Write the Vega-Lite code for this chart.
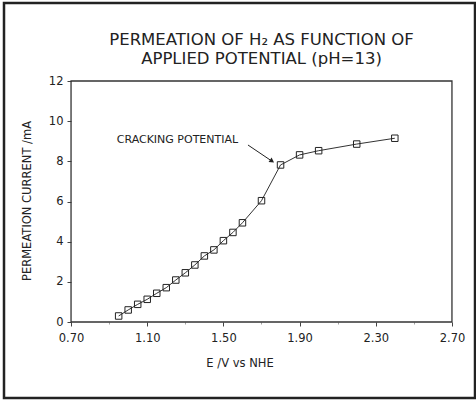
{
  "$schema": "https://vega.github.io/schema/vega-lite/v6.json",
  "width": 471,
  "height": 395,
  "autosize": {"type": "none"},
  "padding": {"left": 4, "top": 3, "right": 1, "bottom": 4},
  "background": "white",
  "config": {
    "view": {"stroke": "#222", "strokeWidth": 2.5},
    "font": "DejaVu Sans",
    "axis": {"grid": false, "domain": false, "labelOverlap": false, "labelFlush": false, "tickColor": "#444", "labelColor": "#222", "titleColor": "#222", "labelFont": "DejaVu Sans", "titleFont": "DejaVu Sans", "titleFontWeight": "normal"}
  },
  "layer": [
    {
      "data": {"values": [
        {"E": 0.95, "I": 0.30}, {"E": 1.00, "I": 0.60}, {"E": 1.05, "I": 0.88}, {"E": 1.10, "I": 1.13},
        {"E": 1.15, "I": 1.43}, {"E": 1.20, "I": 1.71}, {"E": 1.25, "I": 2.09}, {"E": 1.30, "I": 2.45},
        {"E": 1.35, "I": 2.84}, {"E": 1.40, "I": 3.29}, {"E": 1.45, "I": 3.59}, {"E": 1.50, "I": 4.05},
        {"E": 1.55, "I": 4.46}, {"E": 1.60, "I": 4.94}, {"E": 1.70, "I": 6.04}, {"E": 1.80, "I": 7.82},
        {"E": 1.90, "I": 8.32}, {"E": 2.00, "I": 8.53}, {"E": 2.20, "I": 8.86}, {"E": 2.40, "I": 9.15}
      ]},
      "layer": [
        {
          "mark": {"type": "line", "stroke": "#333", "strokeWidth": 1},
          "encoding": {
            "x": {"field": "E", "type": "quantitative", "scale": {"domain": [0.348, 2.821], "nice": false, "zero": false},
              "axis": {
                "orient": "bottom", "offset": -76,
                "values": [0.7,0.8,0.9,1.0,1.1,1.2,1.3,1.4,1.5,1.6,1.7,1.8,1.9,2.0,2.1,2.2,2.3,2.4,2.5,2.6,2.7],
                "labelExpr": "round(datum.value*10) % 4 == 3 ? format(datum.value, '.2f') : ''",
                "tickSize": {"condition": {"test": "round(datum.value*10) % 4 == 3", "value": 4}, "value": 2},
                "tickOpacity": {"condition": {"test": "round(datum.value*10) % 4 == 3", "value": 1}, "value": 0.5},
                "labelFontSize": 11.5, "labelPadding": 6,
                "title": "E /V vs NHE", "titleFontSize": 11.5, "titlePadding": 14
              }
            },
            "y": {"field": "I", "type": "quantitative", "scale": {"domain": [-3.784, 15.884], "nice": false, "zero": false},
              "axis": {
                "orient": "left", "offset": -67,
                "values": [0,1,2,3,4,5,6,7,8,9,10,11,12],
                "labelExpr": "round(datum.value) % 2 == 0 ? format(datum.value, 'd') : ''",
                "tickSize": {"condition": {"test": "round(datum.value) % 2 == 0", "value": 4}, "value": 2},
                "tickOpacity": {"condition": {"test": "round(datum.value) % 2 == 0", "value": 1}, "value": 0.5},
                "labelFontSize": 11.5, "labelPadding": 4,
                "title": "PERMEATION CURRENT /mA", "titleFontSize": 11.5, "titlePadding": 16
              }
            }
          }
        },
        {
          "mark": {"type": "point", "shape": "square", "filled": false, "stroke": "#222", "strokeWidth": 1, "size": 42, "opacity": 1},
          "encoding": {
            "x": {"field": "E", "type": "quantitative"},
            "y": {"field": "I", "type": "quantitative"}
          }
        }
      ]
    },
    {
      "data": {"values": [{}]},
      "mark": {"type": "rect", "filled": false, "stroke": "#333", "strokeWidth": 1.3},
      "encoding": {
        "x": {"datum": 0.7, "type": "quantitative"},
        "x2": {"datum": 2.7},
        "y": {"datum": 0, "type": "quantitative"},
        "y2": {"datum": 12}
      }
    },
    {
      "data": {"values": [{}]},
      "mark": {"type": "text", "text": ["PERMEATION OF H\u2082 AS FUNCTION OF", "APPLIED POTENTIAL (pH=13)"], "font": "DejaVu Sans", "fontSize": 16.5, "lineHeight": 19.5, "align": "center", "baseline": "middle", "fill": "#222"},
      "encoding": {
        "x": {"datum": 1.7, "type": "quantitative"},
        "y": {"datum": 14.06, "type": "quantitative"}
      }
    },
    {
      "data": {"values": [{}]},
      "mark": {"type": "text", "text": "CRACKING POTENTIAL", "font": "DejaVu Sans", "fontSize": 11, "align": "left", "baseline": "middle", "fill": "#222"},
      "encoding": {
        "x": {"datum": 0.94, "type": "quantitative"},
        "y": {"datum": 9.06, "type": "quantitative"}
      }
    },
    {
      "data": {"values": [{}]},
      "mark": {"type": "rule", "stroke": "#222", "strokeWidth": 1},
      "encoding": {
        "x": {"datum": 1.629, "type": "quantitative"},
        "y": {"datum": 8.813, "type": "quantitative"},
        "x2": {"datum": 1.75},
        "y2": {"datum": 8.04}
      }
    },
    {
      "data": {"values": [{}]},
      "mark": {"type": "point", "shape": "triangle", "filled": true, "color": "#222", "size": 30, "angle": 124, "opacity": 1},
      "encoding": {
        "x": {"datum": 1.752, "type": "quantitative"},
        "y": {"datum": 8.03, "type": "quantitative"}
      }
    }
  ]
}
